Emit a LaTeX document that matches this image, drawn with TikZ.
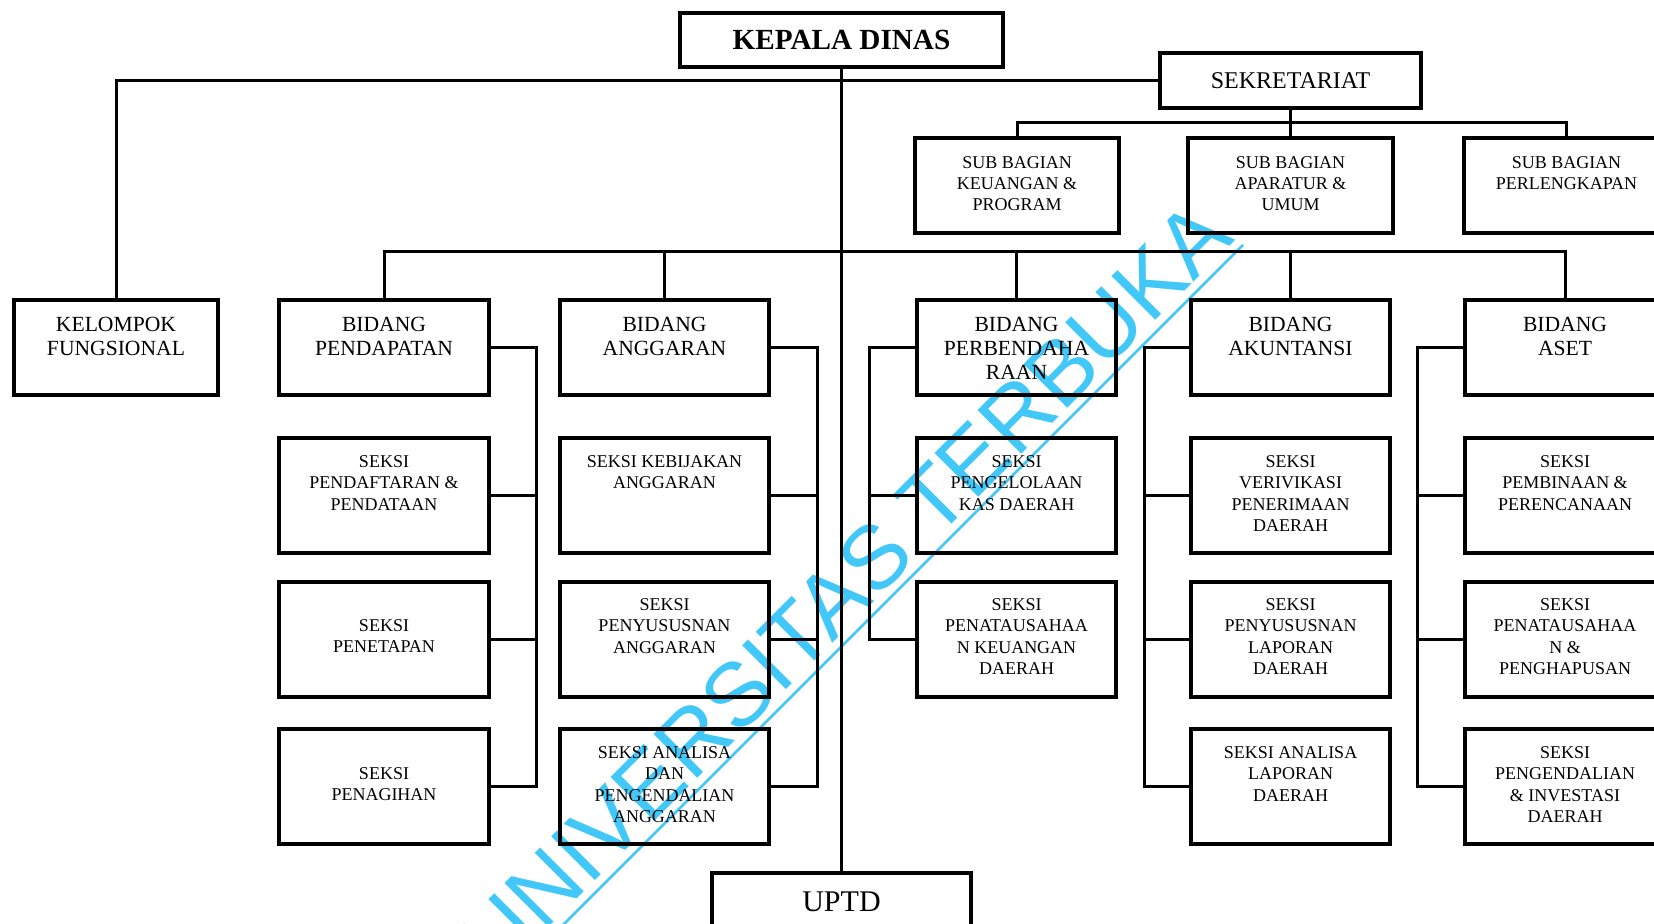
\documentclass[tikz,border=0pt]{standalone}
\usepackage{fontspec}
\setmainfont{Liberation Serif}
\newfontfamily\wmfont{Liberation Sans}
\usetikzlibrary{fit}
\definecolor{wmcyan}{RGB}{66,200,248}
\newcommand\obox[6][]{\node[ob, fit={(#3,#4)(#5,#6)}, #1] (#2) {};}
\begin{document}
\begin{tikzpicture}[x=0.5pt,y=-0.5pt,
  ob/.style={draw=black, line width=1.7pt, inner sep=0pt, outer sep=0pt},
  conn/.style={draw=black, line width=1.5pt},
  tsek/.style={font=\fontsize{9}{10.75}\selectfont, align=center, inner sep=0pt, anchor=north},
  tbid/.style={font=\fontsize{10.8}{12}\selectfont, align=center, inner sep=0pt, anchor=north},
  tsub/.style={font=\fontsize{9}{10.5}\selectfont, align=center, inner sep=0pt, anchor=north},
  wm/.style={font=\wmfont\fontsize{45}{45}\selectfont, text=wmcyan, inner sep=0pt}
]
\useasboundingbox (0,0) rectangle (1654,924);
\clip (0,0) rectangle (1654,924);
\fill[white] (0,0) rectangle (1654,924);

% watermark (behind)
\node[wm, rotate=45, anchor=base east] (wm) at (1236,240) {UNIVERSITAS TERBUKA};
\coordinate (ul1) at (1243,245);
\coordinate (ul2) at (460,1028);
\draw[wmcyan, line width=1.3pt] (ul1) -- (ul2);

% top level
\obox{kepala}{680}{13}{1003}{67}
\path (kepala.center) node[font=\bfseries\fontsize{14.6}{16}\selectfont] {KEPALA DINAS};
\obox{sek}{1160}{53}{1421}{108}
\path (sek.center) node[font=\fontsize{12}{14}\selectfont] {SEKRETARIAT};
\obox{uptd}{712}{873}{971}{931}
\path (uptd.center) node[font=\fontsize{15}{17}\selectfont] {UPTD};

% sub bagian
\obox{sub1}{915}{138}{1119}{233}
\obox{sub2}{1188}{138}{1393}{233}
\obox{sub3}{1464}{138}{1669}{233}
\node[tsub] at ([yshift=-9pt]sub1.north) {SUB BAGIAN\\KEUANGAN \&\\PROGRAM};
\node[tsub] at ([yshift=-9pt]sub2.north) {SUB BAGIAN\\APARATUR \&\\UMUM};
\node[tsub] at ([yshift=-9pt]sub3.north) {SUB BAGIAN\\PERLENGKAPAN};

% bidang row
\obox{kel}{14}{300}{218}{395}
\obox{bid1}{279}{300}{489}{395}
\obox{bid2}{560}{300}{769}{395}
\obox{bid3}{917}{300}{1116}{395}
\obox{bid4}{1191}{300}{1390}{395}
\obox{bid5}{1465}{300}{1665}{395}
\node[tbid] at ([yshift=-8.4pt]kel.north) {KELOMPOK\\FUNGSIONAL};
\node[tbid] at ([yshift=-8.4pt]bid1.north) {BIDANG\\PENDAPATAN};
\node[tbid] at ([yshift=-8.4pt]bid2.north) {BIDANG\\ANGGARAN};
\node[tbid] at ([yshift=-8.4pt]bid3.north) {BIDANG\\PERBENDAHA\\RAAN};
\node[tbid] at ([yshift=-8.4pt]bid4.north) {BIDANG\\AKUNTANSI};
\node[tbid] at ([yshift=-8.4pt]bid5.north) {BIDANG\\ASET};

% seksi column 1
\obox{s11}{279}{438}{489}{553}
\obox{s12}{279}{582}{489}{697}
\obox{s13}{279}{729}{489}{844}
\node[tsek] at ([yshift=-8.5pt]s11.north) {SEKSI\\PENDAFTARAN \&\\PENDATAAN};
\node[tsek] at ([yshift=-18.5pt]s12.north) {SEKSI\\PENETAPAN};
\node[tsek] at ([yshift=-19pt]s13.north) {SEKSI\\PENAGIHAN};
% seksi column 2
\obox{s21}{560}{438}{769}{553}
\obox{s22}{560}{582}{769}{697}
\obox{s23}{560}{729}{769}{844}
\node[tsek] at ([yshift=-8.5pt]s21.north) {SEKSI KEBIJAKAN\\ANGGARAN};
\node[tsek] at ([yshift=-8pt]s22.north) {SEKSI\\PENYUSUSNAN\\ANGGARAN};
\node[tsek] at ([yshift=-8.5pt]s23.north) {SEKSI ANALISA\\DAN\\PENGENDALIAN\\ANGGARAN};
% seksi column 3
\obox{s31}{917}{438}{1116}{553}
\obox{s32}{917}{582}{1116}{697}
\node[tsek] at ([yshift=-8.5pt]s31.north) {SEKSI\\PENGELOLAAN\\KAS DAERAH};
\node[tsek] at ([yshift=-8pt]s32.north) {SEKSI\\PENATAUSAHAA\\N KEUANGAN\\DAERAH};
% seksi column 4
\obox{s41}{1191}{438}{1390}{553}
\obox{s42}{1191}{582}{1390}{697}
\obox{s43}{1191}{729}{1390}{844}
\node[tsek] at ([yshift=-8.5pt]s41.north) {SEKSI\\VERIVIKASI\\PENERIMAAN\\DAERAH};
\node[tsek] at ([yshift=-8pt]s42.north) {SEKSI\\PENYUSUSNAN\\LAPORAN\\DAERAH};
\node[tsek] at ([yshift=-8.5pt]s43.north) {SEKSI ANALISA\\LAPORAN\\DAERAH};
% seksi column 5
\obox{s51}{1465}{438}{1665}{553}
\obox{s52}{1465}{582}{1665}{697}
\obox{s53}{1465}{729}{1665}{844}
\node[tsek] at ([yshift=-8.5pt]s51.north) {SEKSI\\PEMBINAAN \&\\PERENCANAAN};
\node[tsek] at ([yshift=-8pt]s52.north) {SEKSI\\PENATAUSAHAA\\N \&\\PENGHAPUSAN};
\node[tsek] at ([yshift=-8.5pt]s53.north) {SEKSI\\PENGENDALIAN\\\& INVESTASI\\DAERAH};

% connectors
\coordinate (sbus) at (0,123);
\coordinate (bbus) at (0,252);
\coordinate (c1) at (536,0);
\coordinate (c2) at (817,0);
\coordinate (c3) at (869,0);
\coordinate (c4) at (1144,0);
\coordinate (c5) at (1417,0);

\draw[conn] (kepala.south) -- (uptd.north);
\draw[conn] (sek.west) -| (kel.north);
\draw[conn] (sek.south) -- (sek.south |- sbus);
\draw[conn] (sub1.north) -- (sub1.north |- sbus) -- (sub3.north |- sbus) -- (sub3.north);
\draw[conn] (sub2.north) -- (sub2.north |- sbus);
\draw[conn] (bid1.north) -- (bid1.north |- bbus) -- (bid5.north |- bbus) -- (bid5.north);
\draw[conn] (bid2.north) -- (bid2.north |- bbus);
\draw[conn] (bid3.north) -- (bid3.north |- bbus);
\draw[conn] (bid4.north) -- (bid4.north |- bbus);

\draw[conn] (bid1.east) -- (bid1.east -| c1) -- (s13.east -| c1) -- (s13.east);
\draw[conn] (s11.east) -- (s11.east -| c1);
\draw[conn] (s12.east) -- (s12.east -| c1);
\draw[conn] (bid2.east) -- (bid2.east -| c2) -- (s23.east -| c2) -- (s23.east);
\draw[conn] (s21.east) -- (s21.east -| c2);
\draw[conn] (s22.east) -- (s22.east -| c2);
\draw[conn] (bid3.west) -- (bid3.west -| c3) -- (s32.west -| c3) -- (s32.west);
\draw[conn] (s31.west) -- (s31.west -| c3);
\draw[conn] (bid4.west) -- (bid4.west -| c4) -- (s43.west -| c4) -- (s43.west);
\draw[conn] (s41.west) -- (s41.west -| c4);
\draw[conn] (s42.west) -- (s42.west -| c4);
\draw[conn] (bid5.west) -- (bid5.west -| c5) -- (s53.west -| c5) -- (s53.west);
\draw[conn] (s51.west) -- (s51.west -| c5);
\draw[conn] (s52.west) -- (s52.west -| c5);
\end{tikzpicture}
\end{document}
